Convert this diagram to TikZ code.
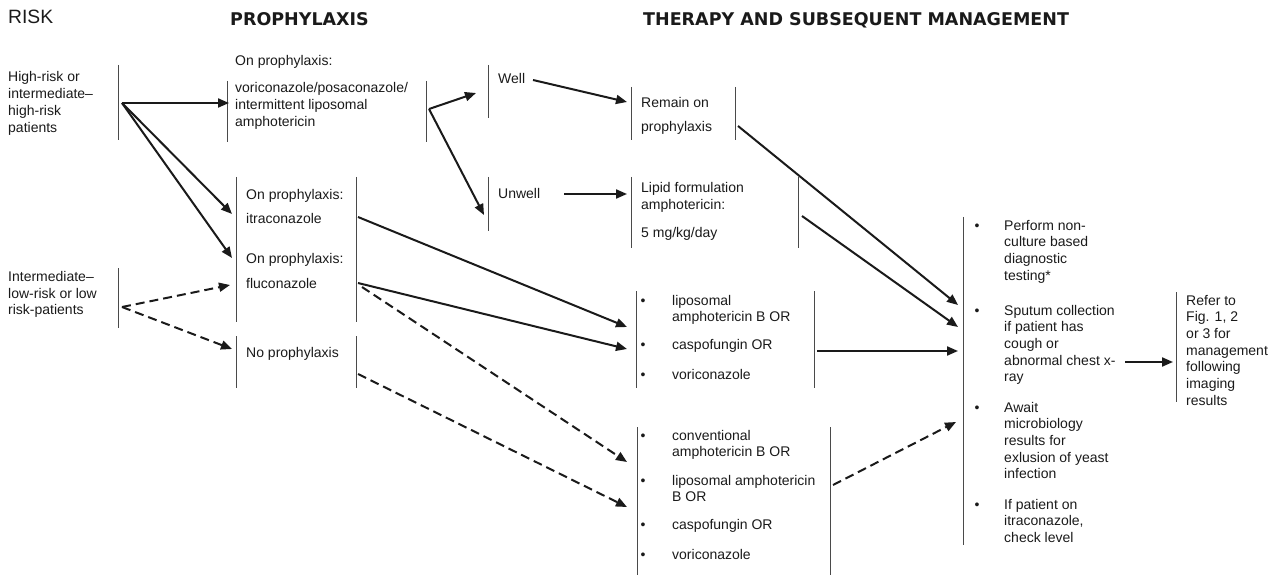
\documentclass[tikz,border=0pt]{standalone}
\usepackage{fontspec}
\setmainfont{Liberation Sans}
\newfontfamily\headfont{DejaVu Sans}
\usetikzlibrary{arrows.meta}

\definecolor{ink}{HTML}{1A1A1A}
\definecolor{rulegray}{HTML}{4A4A4A}

% stacked lines, baseline at the first line
\newcommand\stack[1]{\begin{tabular}[t]{@{}l@{}}#1\end{tabular}}
% bulleted item: bullet column width, then rows "•&line\\&line"
\newcommand\bitem[2]{\begin{tabular}[t]{@{}p{#1}@{}l@{}}#2\end{tabular}}

\begin{document}
\begin{tikzpicture}[x=1pt,y=-1pt,
  txt/.style={anchor=base west, inner sep=0pt, text=ink,
    font=\fontsize{14}{16.7}\selectfont},
  head/.style={anchor=base west, inner sep=0pt, text=ink,
    font=\headfont\bfseries\fontsize{17.5}{21}\selectfont},
  bar/.style={draw=rulegray, line width=1pt},
  flow/.style={draw=ink, line width=2pt, -{Triangle[length=11pt,width=9pt]}},
  dflow/.style={flow, dash pattern=on 9pt off 5pt}]
\useasboundingbox (0,0) rectangle (1281,577);

% column headings
\node[anchor=base west, inner sep=0pt, text=ink, font=\fontsize{19.3}{22}\selectfont] (risk) at (8,24) {RISK};
\node[head] (proph) at (230,26) {PROPHYLAXIS};
\node[head] (ther) at (643,26) {THERAPY AND SUBSEQUENT MANAGEMENT};

% risk groups
\node[txt] (high) at (8,82) {\stack{High-risk or\\intermediate–\\high-risk\\patients}};
\draw[bar] (118,65) -- (118,140);
\node[txt] (low) at (8,281.5) {\stack{Intermediate–\\low-risk or low\\risk-patients}};
\draw[bar] (118,268) -- (118,328);

% prophylaxis options
\node[txt] (onp) at (235,66) {On prophylaxis:};
\node[txt] (vori) at (235,93) {\stack{voriconazole/posaconazole/\\intermittent liposomal\\amphotericin}};
\draw[bar] (227,81) -- (227,142);
\draw[bar] (426,81) -- (426,142);

\node[txt] (itraA) at (246,200) {On prophylaxis:};
\node[txt] (itraB) at (246,223.5) {itraconazole};
\node[txt] (flucA) at (246,263.5) {On prophylaxis:};
\node[txt] (flucB) at (246,288) {fluconazole};
\draw[bar] (236,177) -- (236,322);
\draw[bar] (356,177) -- (356,322);

\node[txt] (none) at (246,357) {No prophylaxis};
\draw[bar] (236,336) -- (236,388);
\draw[bar] (356,336) -- (356,388);

% clinical state
\node[txt] (well) at (498,84) {Well};
\draw[bar] (488,65) -- (488,118);
\node[txt] (unwell) at (498,198.5) {Unwell};
\draw[bar] (488,177) -- (488,231);

% therapy
\node[txt] (remA) at (641,107.5) {Remain on};
\node[txt] (remB) at (641,132) {prophylaxis};
\draw[bar] (631,87) -- (631,140);
\draw[bar] (735,87) -- (735,140);

\node[txt] (lipA) at (641,193) {\stack{Lipid formulation\\amphotericin:}};
\node[txt] (lipB) at (641,237.5) {5 mg/kg/day};
\draw[bar] (631,177) -- (631,248);
\draw[bar] (798,177) -- (798,248);

\node[txt] (midA) at (640.5,305) {\bitem{31.5pt}{•&liposomal\\&amphotericin B OR}};
\node[txt] (midB) at (640.5,349) {\bitem{31.5pt}{•&caspofungin OR}};
\node[txt] (midC) at (640.5,379) {\bitem{31.5pt}{•&voriconazole}};
\draw[bar] (636,291) -- (636,388);
\draw[bar] (814,291) -- (814,388);

\node[txt] (lowA) at (640.5,440) {\bitem{31.5pt}{•&conventional\\&amphotericin B OR}};
\node[txt] (lowB) at (640.5,485) {\bitem{31.5pt}{•&liposomal amphotericin\\&B OR}};
\node[txt] (lowC) at (640.5,529.5) {\bitem{31.5pt}{•&caspofungin OR}};
\node[txt] (lowD) at (640.5,559) {\bitem{31.5pt}{•&voriconazole}};
\draw[bar] (637,427) -- (637,575);
\draw[bar] (830,427) -- (830,575);

% subsequent management
\node[txt] (mgA) at (974.5,230) {\bitem{29.5pt}{•&Perform non-\\&culture based\\&diagnostic\\&testing*}};
\node[txt] (mgB) at (974.5,315) {\bitem{29.5pt}{•&Sputum collection\\&if patient has\\&cough or\\&abnormal chest x-\\&ray}};
\node[txt] (mgC) at (974.5,412) {\bitem{29.5pt}{•&Await\\&microbiology\\&results for\\&exlusion of yeast\\&infection}};
\node[txt] (mgD) at (974.5,509) {\bitem{29.5pt}{•&If patient on\\&itraconazole,\\&check level}};
\draw[bar] (963,217) -- (963,545);

\node[txt] (refer) at (1186,305) {\stack{Refer to\\Fig. 1, 2\\or 3 for\\management\\following\\imaging\\results}};
\draw[bar] (1176,292) -- (1176,402);

% connector ends
\coordinate (hiOut) at (122,103);
\coordinate (voriIn) at (229,103);
\coordinate (itraIn) at (232,214);
\coordinate (flucIn) at (232,258);
\coordinate (voriOut) at (429,109);
\coordinate (wellIn) at (476,93);
\coordinate (unwellIn) at (484,215);
\coordinate (wellOut) at (533,80);
\coordinate (remainIn) at (627,102);
\coordinate (unwellOut) at (564,194);
\coordinate (lipidIn) at (627,194);
\coordinate (remainOut) at (738,126);
\coordinate (lipidOut) at (802,216);
\coordinate (mgIn1) at (958,305);
\coordinate (mgIn2) at (958,327);
\coordinate (itraOut) at (358,217);
\coordinate (flucOut) at (358,283);
\coordinate (midIn1) at (627,327);
\coordinate (midIn2) at (627,349);
\coordinate (midOut) at (817,351);
\coordinate (mgIn3) at (958,351);
\coordinate (mgOut) at (1125,362);
\coordinate (referIn) at (1173,362);
\coordinate (lowOut) at (122,307);
\coordinate (flucInD) at (230,285);
\coordinate (noneIn) at (232,349);
\coordinate (flucOutD) at (362,287);
\coordinate (convIn1) at (627,462);
\coordinate (noneOut) at (358,374);
\coordinate (convIn2) at (627,507);
\coordinate (convOut) at (833,485);
\coordinate (mgIn4) at (956,422);

% solid pathways
\draw[flow] (hiOut) -- (voriIn);
\draw[flow] (hiOut) -- (itraIn);
\draw[flow] (hiOut) -- (flucIn);
\draw[flow] (voriOut) -- (wellIn);
\draw[flow] (voriOut) -- (unwellIn);
\draw[flow] (wellOut) -- (remainIn);
\draw[flow] (unwellOut) -- (lipidIn);
\draw[flow] (remainOut) -- (mgIn1);
\draw[flow] (lipidOut) -- (mgIn2);
\draw[flow] (itraOut) -- (midIn1);
\draw[flow] (flucOut) -- (midIn2);
\draw[flow] (midOut) -- (mgIn3);
\draw[flow] (mgOut) -- (referIn);

% dashed pathways
\draw[dflow] (lowOut) -- (flucInD);
\draw[dflow] (lowOut) -- (noneIn);
\draw[dflow] (flucOutD) -- (convIn1);
\draw[dflow] (noneOut) -- (convIn2);
\draw[dflow] (convOut) -- (mgIn4);
\end{tikzpicture}
\end{document}
